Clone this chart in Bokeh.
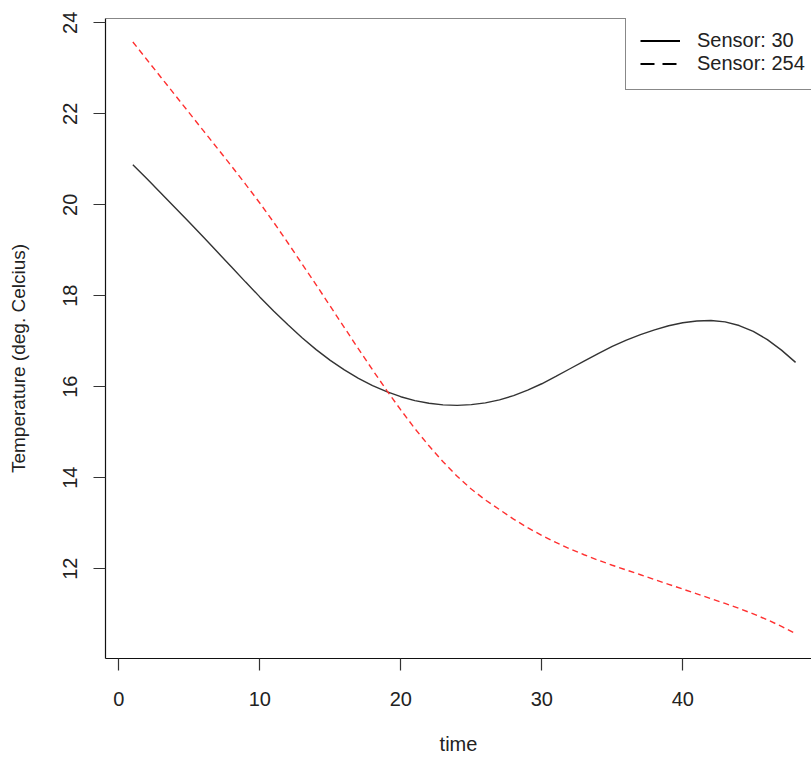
import math
from bokeh.plotting import figure
from bokeh.models import Range1d, FixedTicker, Span, Legend, LegendItem, Label
from bokeh.embed import file_html
from bokeh.resources import INLINE

time = list(range(1, 49))
sensor30 = [20.88, 20.57, 20.255, 19.935, 19.615, 19.29, 18.96, 18.63, 18.30, 17.975,
            17.66, 17.36, 17.075, 16.815, 16.58, 16.37, 16.185, 16.025, 15.89, 15.78,
            15.695, 15.635, 15.60, 15.59, 15.605, 15.645, 15.71, 15.805, 15.925, 16.065,
            16.225, 16.395, 16.565, 16.73, 16.885, 17.025, 17.145, 17.25, 17.34, 17.405,
            17.445, 17.455, 17.425, 17.345, 17.215, 17.035, 16.805, 16.535]
sensor254 = [23.58, 23.19, 22.80, 22.41, 22.02, 21.63, 21.24, 20.85, 20.45, 20.04,
             19.61, 19.16, 18.70, 18.24, 17.77, 17.30, 16.83, 16.37, 15.92, 15.49,
             15.08, 14.70, 14.35, 14.03, 13.75, 13.51, 13.30, 13.09, 12.90, 12.73,
             12.575, 12.435, 12.305, 12.185, 12.075, 11.97, 11.865, 11.76, 11.655, 11.55,
             11.445, 11.34, 11.235, 11.125, 11.005, 10.875, 10.73, 10.57]
x_ticks = [0, 10, 20, 30, 40]
y_ticks = [12, 14, 16, 18, 20, 22, 24]
series_labels = ["Sensor: 30", "Sensor: 254"]
x_title = "time"
y_title = "Temperature (deg. Celcius)"

FONT = "Liberation Sans"
INK = "#222222"

p = figure(width=811, height=757, output_backend="svg", toolbar_location=None,
           x_range=Range1d(-0.94, 49.13), y_range=Range1d(10.024, 24.096),
           min_border_left=105, min_border_right=0, min_border_top=18,
           min_border_bottom=97)
p.outline_line_color = None
p.xgrid.visible = False
p.ygrid.visible = False
p.background_fill_color = "white"
p.border_fill_color = "white"

for ax in (p.xaxis[0], p.yaxis[0]):
    ax.axis_line_color = "#111111"
    ax.axis_line_width = 1.2
    ax.major_tick_line_color = "#333333"
    ax.major_tick_line_width = 1.2
    ax.major_tick_out = 12
    ax.major_tick_in = 0
    ax.minor_tick_line_color = None
    ax.major_label_text_font = FONT
    ax.major_label_text_font_size = "20px"
    ax.major_label_text_color = INK

p.xaxis.ticker = FixedTicker(ticks=x_ticks)
p.yaxis.ticker = FixedTicker(ticks=y_ticks)
p.xaxis.major_label_standoff = 21
p.yaxis.major_label_standoff = 16
p.yaxis.major_label_orientation = "vertical"

p.xaxis.axis_label = x_title
p.xaxis.axis_label_standoff = 24
p.xaxis.axis_label_text_font = FONT
p.xaxis.axis_label_text_font_size = "20px"
p.xaxis.axis_label_text_font_style = "normal"
p.xaxis.axis_label_text_color = INK

# y title as a label in the left side panel
p.add_layout(Label(x=-21, y=300, x_units="screen", y_units="screen", text=y_title,
                   angle=math.pi / 2, text_font=FONT, text_font_size="19px",
                   text_color=INK, text_align="center", text_baseline="middle"), "left")

# top border line of the box
p.add_layout(Span(location=24.096, dimension="width", line_color="#111111", line_width=1.2))

p.line(time, sensor30, line_color="#333333", line_width=1.4)
p.line(time, sensor254, line_color="#ff3030", line_width=1.4, line_dash="6 4")

# legend-only renderers (black samples, nothing drawn in the plot)
nan = float("nan")
r1 = p.line([nan], [nan], line_color="black", line_width=2)
r2 = p.line([nan], [nan], line_color="black", line_width=2, line_dash="14 8")
legend = Legend(items=[LegendItem(label=series_labels[0], renderers=[r1]),
                       LegendItem(label=series_labels[1], renderers=[r2])],
                location=(520, 568), padding=14, spacing=0,
                glyph_width=40, glyph_height=23, label_height=23,
                label_standoff=17, label_text_font=FONT,
                label_text_font_size="20px", label_text_color=INK,
                border_line_color="#111111", border_line_width=1.2,
                background_fill_color="white", background_fill_alpha=1.0,
                margin=0)
p.add_layout(legend, "center")

open("out.html", "w").write(file_html(p, INLINE))
